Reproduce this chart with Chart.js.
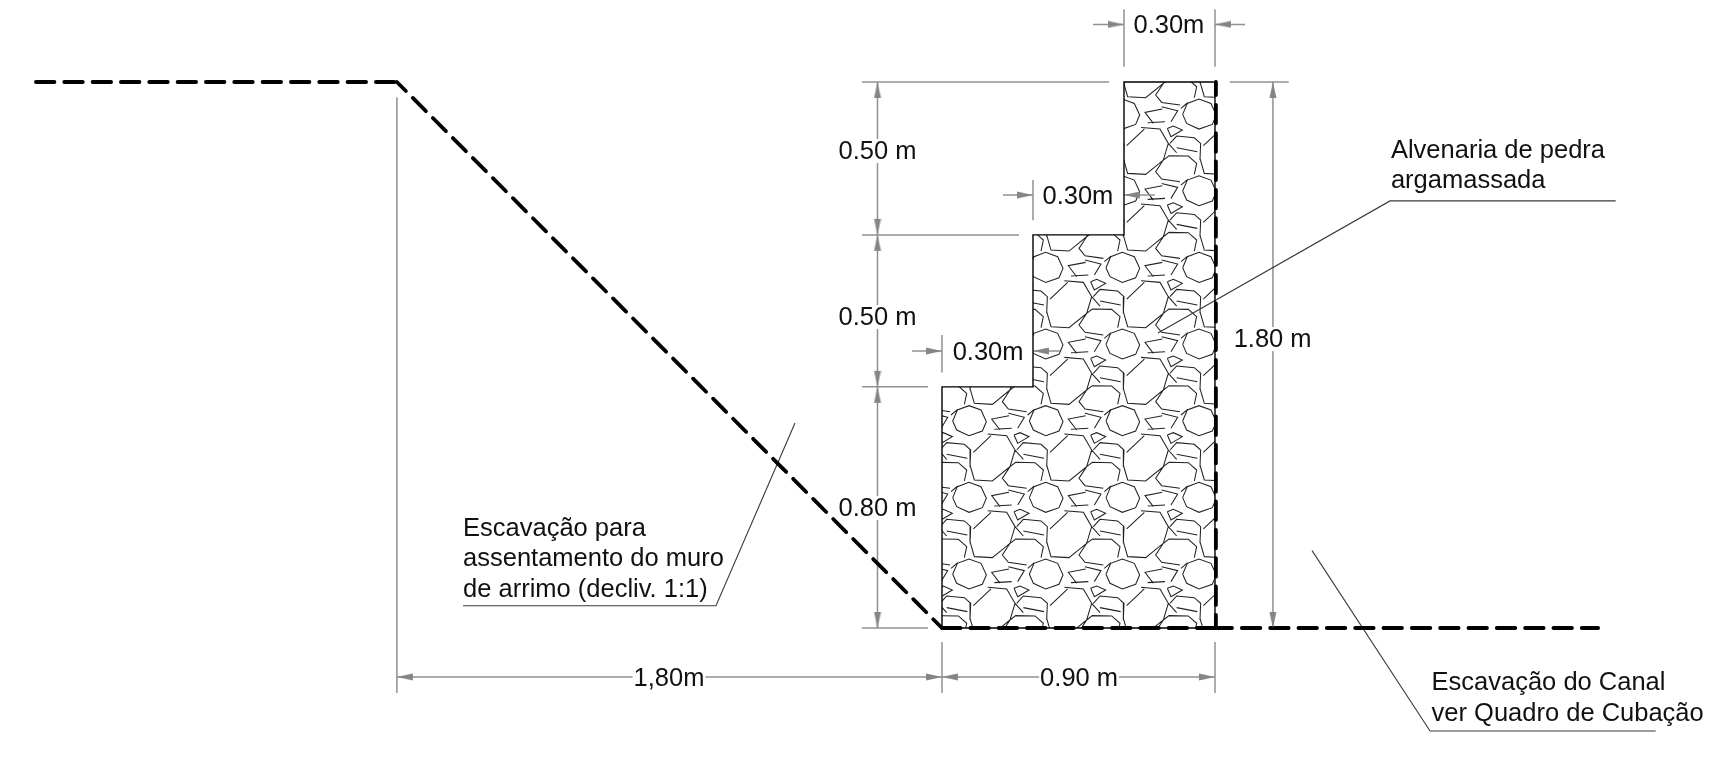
<!DOCTYPE html>
<html>
<head>
<meta charset="utf-8">
<title>Muro de arrimo</title>
<script src="https://cdn.jsdelivr.net/npm/chart.js@4"></script>
<style>
  html, body { margin: 0; padding: 0; background: #fff; }
  canvas { display: block; }
</style>
</head>
<body>
<canvas id="chart" width="1717" height="764"></canvas>
<script>
// everything is in metres, origin at the toe of the wall

// excavation profile (thick dashed), each stretch starts its own dash pattern
const cutTop = [[-2.987, 1.8], [-1.797, 1.8]];
const cutSlope = [[-1.797, 1.8], [0, 0]];
const wallBase = [[0, 0], [0.9, 0]];
const canalBed = [[0.9, 0], [2.163, 0]];

// wall outline
const wallX = [0, 0, 0.3, 0.3, 0.6, 0.6, 0.9, 0.9, 0];
const wallY = [0, 0.795, 0.795, 1.296, 1.296, 1.8, 1.8, 0, 0];

// dashed back face of the wall
const wallBack = [[0.903, 1.8], [0.903, 0]];

// extension lines
const extensionLines = [
  [[-1.797, 1.75], [-1.797, -0.214]],
  [[0, -0.046], [0, -0.214]],
  [[0.9, -0.046], [0.9, -0.214]],
  [[0.6, 2.04], [0.6, 1.85]],
  [[0.9, 2.04], [0.9, 1.85]],
  [[0.3, 1.477], [0.3, 1.344]],
  [[0, 0.966], [0, 0.842]],
  [[-0.264, 1.8], [0.551, 1.8]],
  [[-0.264, 1.296], [0.254, 1.296]],
  [[-0.264, 0.795], [-0.046, 0.795]],
  [[-0.264, 0], [-0.046, 0]],
  [[0.949, 1.8], [1.143, 1.8]]
];

// dimension lines
const dimLines = [
  [[-1.797, -0.1615], [0, -0.1615]],
  [[0, -0.1615], [0.9, -0.1615]],
  [[-0.2126, 1.8], [-0.2126, 1.296]],
  [[-0.2126, 1.296], [-0.2126, 0.795]],
  [[-0.2126, 0.795], [-0.2126, 0]],
  [[1.091, 1.8], [1.091, 0]],
  [[0.498, 1.99], [0.6, 1.99]],
  [[0.999, 1.99], [0.9, 1.99]],
  [[0.201, 1.4275], [0.3, 1.4275]],
  [[0.702, 1.4275], [0.6, 1.4275]],
  [[-0.099, 0.913], [0, 0.913]],
  [[0.389, 0.913], [0.3, 0.913]]
];

// arrow tips: x, y, direction in degrees
const arrowTips = [
  [-1.797, -0.1615, 180], [0, -0.1615, 0], [0, -0.1615, 180], [0.9, -0.1615, 0],
  [-0.2126, 1.8, -90], [-0.2126, 1.296, 90], [-0.2126, 1.296, -90],
  [-0.2126, 0.795, 90], [-0.2126, 0.795, -90], [-0.2126, 0, 90],
  [1.091, 1.8, -90], [1.091, 0, 90],
  [0.6, 1.99, 0], [0.9, 1.99, 180],
  [0.3, 1.4275, 0], [0.6, 1.4275, 180],
  [0, 0.913, 0], [0.3, 0.913, 180]
];

// leader lines of the notes
const leaderLines = [
  [[0.712, 0.9725], [1.477, 1.408], [2.221, 1.408]],
  [[1.22, 0.255], [1.609, -0.3396], [2.353, -0.3396]],
  [[-0.4846, 0.676], [-0.745, 0.0735], [-1.579, 0.0735]]
];

// text labels
const dimLabels = [
  ["0.30m", 0.748, 1.99], ["0.30m", 0.448, 1.4275], ["0.30m", 0.152, 0.913],
  ["0.50 m", -0.2126, 1.576], ["0.50 m", -0.2126, 1.0286], ["0.80 m", -0.2126, 0.399],
  ["1.80 m", 1.09, 0.956], ["1,80m", -0.9, -0.1615], ["0.90 m", 0.452, -0.1615]
];
const noteLabels = [
  ["Alvenaria de pedra", 1.48, 1.579], ["argamassada", 1.48, 1.48],
  ["Escavação do Canal", 1.614, -0.1737], ["ver Quadro de Cubação", 1.614, -0.276],
  ["Escavação para", -1.579, 0.333], ["assentamento do muro", -1.579, 0.234],
  ["de arrimo (decliv. 1:1)", -1.579, 0.132]
];

// stone hatch, one repeat of the pattern, in 1/230 of the repeat
const stoneLines = [
  [[3, 78], [17, 45], [52, 32], [88, 45], [104, 80], [92, 108], [52, 122], [15, 105], [3, 78]],
  [[-2, 60], [18, 43]],
  [[65, 172], [118, 122]],
  [[108, 117], [165, 122], [190, 165], [175, 215], [122, 258], [68, 255], [55, 210]],
  [[-40, 165], [-15, 193]],
  [[-35, 165], [-15, 143], [38, 148], [57, 165], [55, 215]],
  [[-15, 178], [47, 190]],
  [[-55, 215], [-38, 202], [20, 203], [45, 225], [38, 258]],
  [[175, 215], [152, 250], [170, 272], [225, 280]],
  [[170, 55], [218, 67], [198, 100]],
  [[172, 62], [120, 72], [145, 105]],
  [[128, 103], [180, 100]],
  [[187, 120], [205, 113], [232, 125], [198, 145], [187, 120]]
];
const hatchRepeat = 0.2527;   // metres
const hatchOrigin = [0.5374, 0.7681];

function zipXY(xs, ys) {
  return xs.map((x, i) => ({ x, y: ys[i] }));
}

function linesToSeries(lines) {
  const out = [];
  lines.forEach(line => {
    line.forEach(p => out.push({ x: p[0], y: p[1] }));
    out.push({ x: NaN, y: NaN }); // break the line
  });
  return out;
}

function hatchSeries() {
  const k = hatchRepeat / 230;
  const out = [];
  for (let i = -3; i <= 2; i++) {
    for (let j = -4; j <= 5; j++) {
      stoneLines.forEach(line => {
        line.forEach(p => out.push({
          x: hatchOrigin[0] + i * hatchRepeat + p[0] * k,
          y: hatchOrigin[1] + j * hatchRepeat - p[1] * k
        }));
        out.push({ x: NaN, y: NaN });
      });
    }
  }
  return out;
}

// arrow picture: tip sits in the middle of the image so rotation keeps it on the point
function makeArrow() {
  const c = document.createElement("canvas");
  c.width = 34;
  c.height = 8;
  const g = c.getContext("2d");
  g.fillStyle = "#858585";
  g.beginPath();
  g.moveTo(17, 4);
  g.lineTo(1, 0.4);
  g.lineTo(1, 7.6);
  g.closePath();
  g.fill();
  return c;
}

// keeps the hatch inside the wall outline
const wallClip = {
  id: "wallClip",
  beforeDatasetDraw(chart, args) {
    if (chart.data.datasets[args.index].label !== "hatch") return;
    const { x, y } = chart.scales;
    const ctx = chart.ctx;
    ctx.save();
    ctx.beginPath();
    wallX.forEach((v, i) => {
      if (i === 0) ctx.moveTo(x.getPixelForValue(v), y.getPixelForValue(wallY[i]));
      else ctx.lineTo(x.getPixelForValue(v), y.getPixelForValue(wallY[i]));
    });
    ctx.closePath();
    ctx.clip();
  },
  afterDatasetDraw(chart, args) {
    if (chart.data.datasets[args.index].label === "hatch") chart.ctx.restore();
  }
};

// text goes on last, dimension text knocks out the line behind it
const drawingText = {
  id: "drawingText",
  afterDatasetsDraw(chart) {
    const { x, y } = chart.scales;
    const ctx = chart.ctx;
    ctx.save();
    ctx.font = '25.5px "Liberation Sans"';
    ctx.textBaseline = "middle";
    ctx.textAlign = "center";
    dimLabels.forEach(l => {
      const px = x.getPixelForValue(l[1]);
      const py = y.getPixelForValue(l[2]);
      const w = ctx.measureText(l[0]).width + 2;
      ctx.fillStyle = "#fff";
      ctx.fillRect(px - w / 2, py - 11, w, 24);
      ctx.fillStyle = "#111";
      ctx.fillText(l[0], px, py + 2);
    });
    ctx.textAlign = "left";
    ctx.fillStyle = "#111";
    noteLabels.forEach(l => ctx.fillText(l[0], x.getPixelForValue(l[1]), y.getPixelForValue(l[2]) + 2));
    ctx.restore();
  }
};

const lineDefaults = { showLine: true, pointRadius: 0, fill: false, tension: 0 };

function thickDashed(label, line, offset) {
  return { ...lineDefaults, label, data: linesToSeries([line]),
    borderColor: "#000", borderWidth: 3.8, borderCapStyle: "round",
    borderDash: [18.5, 9.83], borderDashOffset: offset };
}

new Chart(document.getElementById("chart").getContext("2d"), {
  type: "scatter",
  data: {
    datasets: [
      { ...lineDefaults, label: "arrows", showLine: false,
        data: arrowTips.map(a => ({ x: a[0], y: a[1] })),
        pointStyle: makeArrow(), pointRadius: 8, pointRotation: arrowTips.map(a => a[2]) },
      thickDashed("cut top", cutTop, 0),
      thickDashed("cut slope", cutSlope, 5.8),
      thickDashed("wall base", wallBase, 0),
      thickDashed("canal bed", canalBed, 1.5),
      thickDashed("wall back", wallBack, 5.5),
      { ...lineDefaults, label: "wall", data: zipXY(wallX, wallY),
        borderColor: "#000", borderWidth: 1.4, borderJoinStyle: "miter" },
      { ...lineDefaults, label: "leaders", data: linesToSeries(leaderLines),
        borderColor: "#3a3a3a", borderWidth: 1.1 },
      { ...lineDefaults, label: "dims", data: linesToSeries(dimLines),
        borderColor: "#919191", borderWidth: 1.5 },
      { ...lineDefaults, label: "extensions", data: linesToSeries(extensionLines),
        borderColor: "#919191", borderWidth: 1.5 },
      { ...lineDefaults, label: "hatch", data: hatchSeries(),
        borderColor: "#222", borderWidth: 1.05 }
    ]
  },
  options: {
    responsive: false,
    animation: false,
    events: [],
    layout: { padding: 0, autoPadding: false },
    plugins: { legend: { display: false }, tooltip: { enabled: false } },
    scales: {
      // 303.33 px per metre on both axes
      x: { type: "linear", display: false, min: -3.1055, max: 2.555 },
      y: { type: "linear", display: false, min: -0.4484, max: 2.0704 }
    }
  },
  plugins: [wallClip, drawingText]
});
</script>
</body>
</html>
